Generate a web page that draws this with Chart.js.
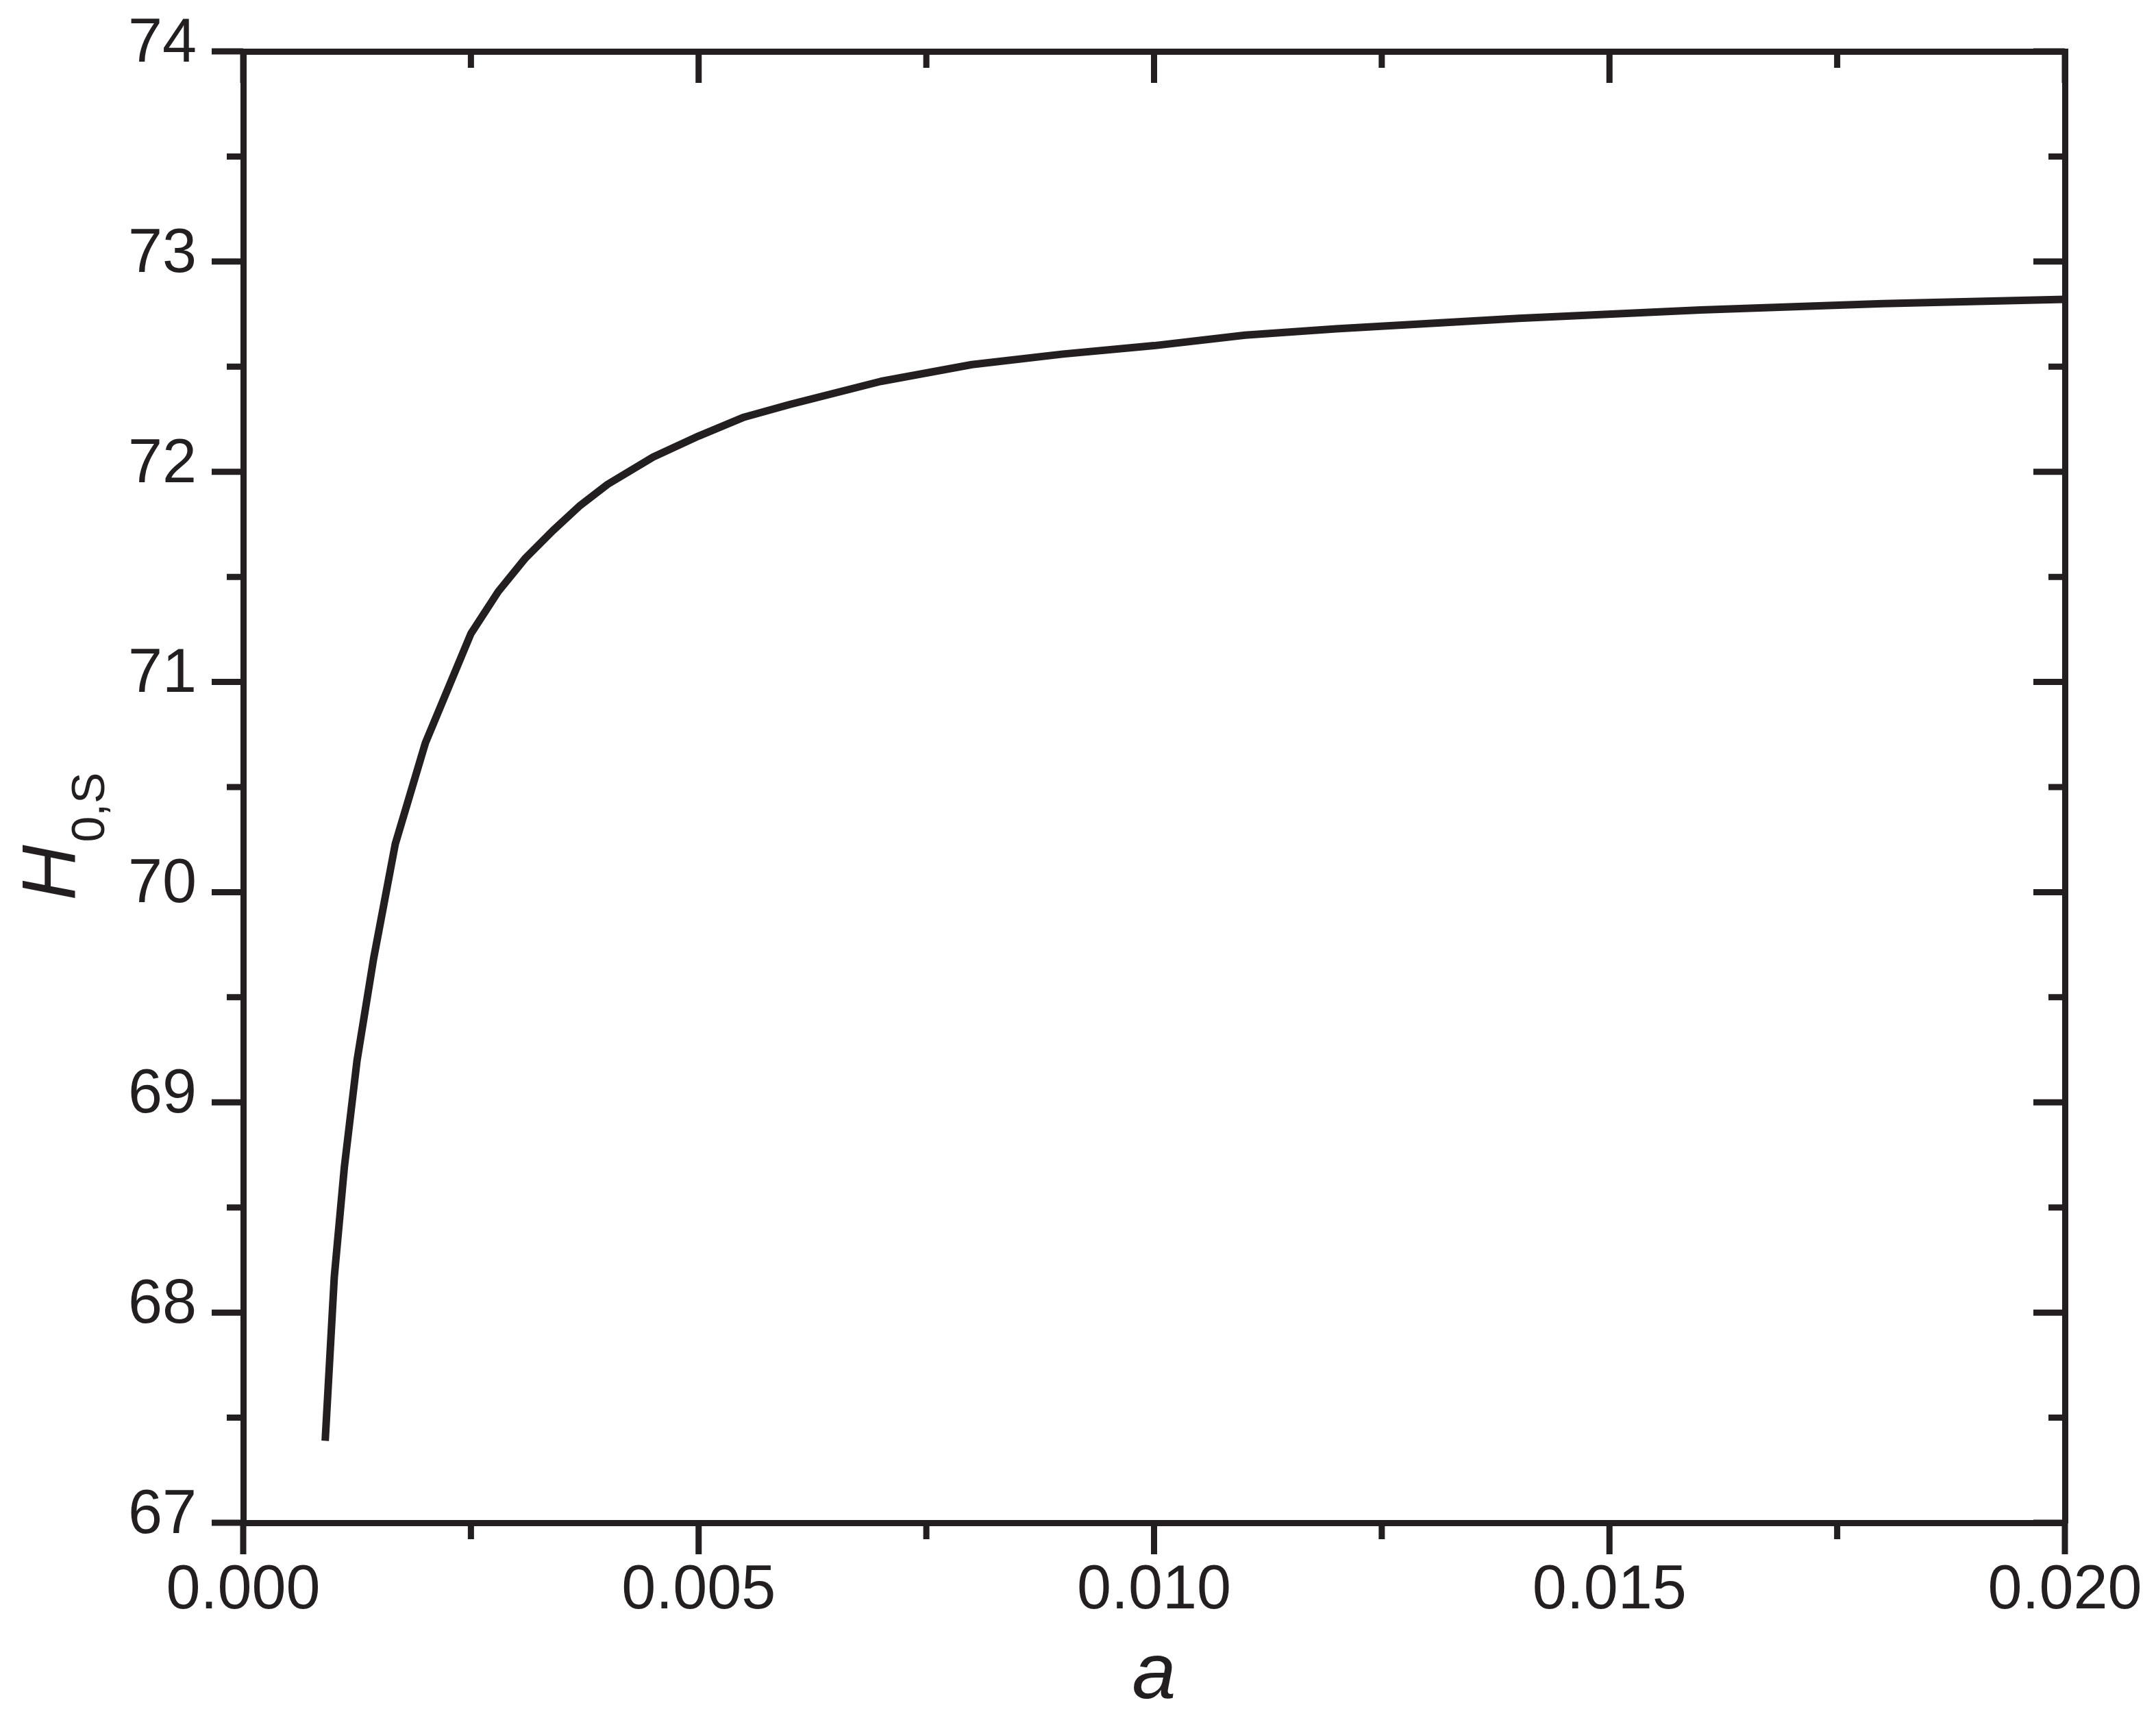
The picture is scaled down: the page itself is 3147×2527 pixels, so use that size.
<!DOCTYPE html>
<html>
<head>
<meta charset="utf-8">
<script src="https://cdn.jsdelivr.net/npm/chart.js@4.4.1/dist/chart.umd.min.js"></script>
<style>
html,body{margin:0;padding:0;background:#ffffff;}
canvas{display:block;}
</style>
</head>
<body>
<canvas id="c" width="3147" height="2527" style="width:3147px;height:2527px"></canvas>
<script>
// ---- data ----
const aValues = [0.0009, 0.001, 0.00111, 0.00125, 0.00143, 0.00167, 0.002, 0.0025, 0.0028, 0.0031, 0.0034, 0.0037, 0.004, 0.0045, 0.005, 0.0055, 0.006, 0.007, 0.008, 0.009, 0.010, 0.011, 0.012, 0.014, 0.016, 0.018, 0.020];
const h0sValues = [67.39, 68.17, 68.69, 69.20, 69.68, 70.23, 70.71, 71.23, 71.43, 71.59, 71.72, 71.84, 71.94, 72.07, 72.17, 72.26, 72.32, 72.43, 72.51, 72.56, 72.60, 72.65, 72.68, 72.73, 72.77, 72.80, 72.82];
const xTickLabels = ['0.000', '0.005', '0.010', '0.015', '0.020'];
const yTickLabels = ['67', '68', '69', '70', '71', '72', '73', '74'];
const xTitle = 'a';
const yTitleMain = 'H';
const yTitleSub = '0,S';

const INK = '#231f20';
const TICK_FONT = "'Liberation Sans', Arial, Helvetica, sans-serif";
const TITLE_FONT = "'Liberation Sans', Arial, Helvetica, sans-serif";

// minor / major tick marks on all four sides (left/bottom outward, top/right inward)
const tickMarks = {
  id: 'tickMarks',
  afterDraw(chart) {
    const ctx = chart.ctx;
    const xs = chart.scales.x, ys = chart.scales.y;
    const ca = chart.chartArea;
    const major = 46, minor = 24;
    ctx.save();
    ctx.strokeStyle = INK;
    ctx.lineWidth = 9;
    ctx.lineCap = 'butt';
    for (let k = 0; k <= 8; k++) {
      const v = k * 0.0025;
      const px = xs.getPixelForValue(v);
      const len = (k % 2 === 0) ? major : minor;
      ctx.beginPath();
      ctx.moveTo(px, ca.bottom); ctx.lineTo(px, ca.bottom + len);
      ctx.moveTo(px, ca.top); ctx.lineTo(px, ca.top + len);
      ctx.stroke();
    }
    for (let k = 0; k <= 14; k++) {
      const v = 67 + k * 0.5;
      const py = ys.getPixelForValue(v);
      const len = (k % 2 === 0) ? major : minor;
      ctx.beginPath();
      ctx.moveTo(ca.left, py); ctx.lineTo(ca.left - len, py);
      ctx.moveTo(ca.right, py); ctx.lineTo(ca.right - len, py);
      ctx.stroke();
    }
    ctx.restore();
  }
};

// y-axis title with subscript
const yTitle = {
  id: 'yTitle',
  afterDraw(chart) {
    const ctx = chart.ctx;
    const ca = chart.chartArea;
    ctx.save();
    ctx.fillStyle = INK;
    ctx.font = 'italic 112px ' + TITLE_FONT;
    const wMain = ctx.measureText(yTitleMain).width;
    ctx.font = '68px ' + TITLE_FONT;
    const wSub = ctx.measureText(yTitleSub).width;
    const total = wMain + 4 + wSub;
    const centerY = (ca.top + ca.bottom) / 2 + 72;
    const baseX = ca.left - 245;
    ctx.translate(baseX, centerY + total / 2);
    ctx.rotate(-Math.PI / 2);
    ctx.textBaseline = 'alphabetic';
    ctx.textAlign = 'left';
    ctx.font = 'italic 112px ' + TITLE_FONT;
    ctx.fillText(yTitleMain, 0, 0);
    ctx.font = '68px ' + TITLE_FONT;
    ctx.fillText(yTitleSub, wMain + 4, 42);
    ctx.restore();
  }
};

const tickFont = { family: TICK_FONT, size: 90 };
function noPad(s) { s.paddingTop = 0; s.paddingBottom = 0; s.paddingLeft = 0; s.paddingRight = 0; }

new Chart(document.getElementById('c').getContext('2d'), {
  type: 'scatter',
  data: {
    datasets: [{
      data: aValues.map((a, i) => ({ x: a, y: h0sValues[i] })),
      showLine: true,
      borderColor: INK,
      backgroundColor: INK,
      borderWidth: 11,
      pointRadius: 0,
      pointHoverRadius: 0,
      tension: 0,
      fill: false,
      borderJoinStyle: 'round'
    }]
  },
  options: {
    responsive: false,
    devicePixelRatio: 1,
    animation: false,
    events: [],
    layout: { padding: { top: 75, right: 133, left: 0, bottom: 0 } },
    plugins: { legend: { display: false }, tooltip: { enabled: false }, title: { display: false } },
    scales: {
      x: {
        type: 'linear', position: 'bottom', min: 0, max: 0.02,
        grid: { display: false, drawTicks: false },
        border: { display: true, color: INK, width: 9 },
        ticks: {
          stepSize: 0.005, padding: 46, color: INK, font: tickFont,
          maxRotation: 0, autoSkip: false,
          callback: (v, i) => xTickLabels[i] !== undefined ? xTickLabels[i] : ''
        },
        title: {
          display: true, text: xTitle, color: INK,
          font: { family: TITLE_FONT, size: 115, style: 'italic' },
          padding: { top: 0, bottom: 11 }
        },
        afterFit(s) { s.height = 2527 - 2223; noPad(s); }
      },
      y: {
        type: 'linear', position: 'left', min: 67, max: 74,
        grid: { display: false, drawTicks: false },
        border: { display: true, color: INK, width: 9 },
        ticks: {
          stepSize: 1, padding: 68, color: INK, font: tickFont, labelOffset: -10,
          autoSkip: false,
          callback: (v, i) => yTickLabels[i] !== undefined ? yTickLabels[i] : ''
        },
        afterFit(s) { s.width = 355; noPad(s); }
      },
      x2: {
        type: 'linear', position: 'top', min: 0, max: 0.02,
        grid: { display: false, drawTicks: false },
        border: { display: true, color: INK, width: 9 },
        ticks: { display: false },
        afterFit(s) { s.height = 0; noPad(s); }
      },
      y2: {
        type: 'linear', position: 'right', min: 67, max: 74,
        grid: { display: false, drawTicks: false },
        border: { display: true, color: INK, width: 9 },
        ticks: { display: false },
        afterFit(s) { s.width = 0; noPad(s); }
      }
    }
  },
  plugins: [tickMarks, yTitle]
});
</script>
</body>
</html>
